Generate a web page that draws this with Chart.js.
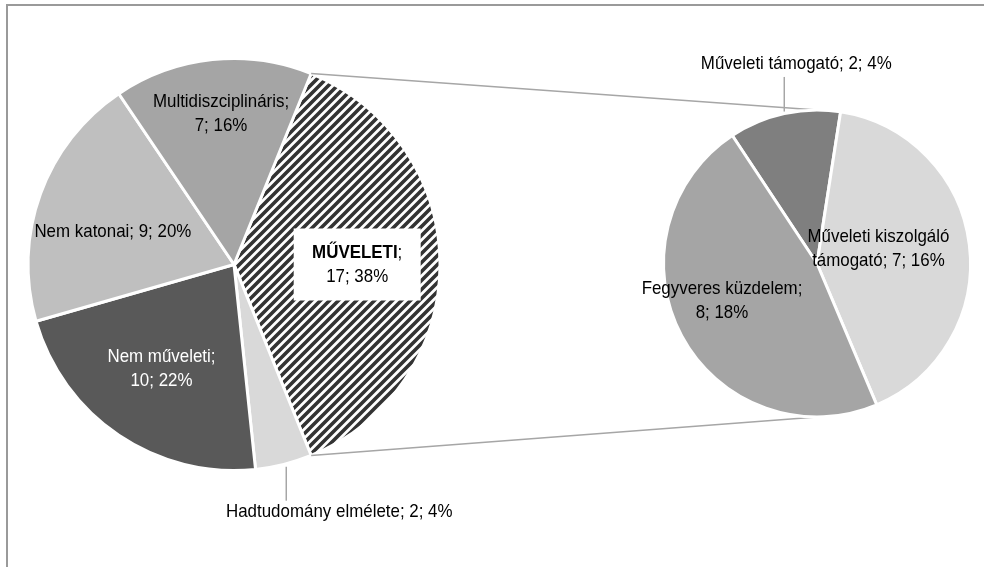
<!DOCTYPE html>
<html><head><meta charset="utf-8">
<script src="https://cdn.jsdelivr.net/npm/chart.js@4"></script>
<style>
html,body{margin:0;padding:0;background:#fff;}
#wrap{position:relative;width:984px;height:567px;overflow:hidden;background:#fff;}
#wrap canvas{position:absolute;left:0;top:0;}
#frame{position:absolute;left:6px;top:4px;width:1200px;height:1200px;border:2px solid #9a9a9a;}
</style></head><body>
<div id="wrap"><div id="frame"></div><canvas id="main" width="984" height="567"></canvas><canvas id="sec" width="984" height="567"></canvas></div>
<script>
// ---- data ----
const mainCategories = ['MŰVELETI', 'Hadtudomány elmélete', 'Nem műveleti', 'Nem katonai', 'Multidiszciplináris'];
const mainValues = [17, 2, 10, 9, 7];
const mainPercents = [38, 4, 22, 20, 16];
const secCategories = ['Műveleti támogató', 'Műveleti kiszolgáló támogató', 'Fegyveres küzdelem'];
const secValues = [2, 7, 8];
const secPercents = [4, 16, 18];

// ---- styles / layout ----
const FONT_FAMILY = '"Liberation Sans Narrow", "Arial Narrow", "Liberation Sans", Arial, sans-serif';
const FONT_SIZE = 19;
const X_SCALE = 0.89;   // condense the glyphs horizontally
const LINE_H = 24;

function hatchPattern() {
  const s = 9;
  const c = document.createElement('canvas');
  c.width = s; c.height = s;
  const g = c.getContext('2d');
  g.fillStyle = '#fff'; g.fillRect(0, 0, s, s);
  g.strokeStyle = '#333'; g.lineWidth = 3.6; g.lineCap = 'square';
  for (const o of [-s, 0, s]) {
    g.beginPath(); g.moveTo(o - 1, s + 1); g.lineTo(o + s + 1, -1); g.stroke();
  }
  return g.createPattern(c, 'repeat');
}

const mainColors = [hatchPattern(), '#d9d9d9', '#595959', '#bfbfbf', '#a5a5a5'];
const secColors = ['#7f7f7f', '#d9d9d9', '#a5a5a5'];

// label placement relative to pie centre, in units of radius
const mainLabelLayout = [
  {rx: 0.598, ry: 0.0, brk: 1, color: '#000', bold: true, box: true},
  {rx: 0.511, ry: 1.2, brk: 0, color: '#000', leaderDx: -53},
  {rx: -0.352, ry: 0.506, brk: 2, color: '#fff'},
  {rx: -0.588, ry: -0.157, brk: 0, color: '#000'},
  {rx: -0.063, ry: -0.733, brk: 1, color: '#000'}
];
const secLabelLayout = [
  {rx: -0.135, ry: -1.30, brk: 0, color: '#000', leaderDx: -12},
  {rx: 0.40, ry: -0.097, brk: 2, color: '#000'},
  {rx: -0.619, ry: 0.245, brk: 2, color: '#000'}
];

function labelLines(name, v, p, brk) {
  const words = (name + '; ' + v + '; ' + p + '%').split(' ');
  if (!brk) return [words.join(' ')];
  return [words.slice(0, brk).join(' '), words.slice(brk).join(' ')];
}

function setFont(ctx, bold) { ctx.font = (bold ? 'bold ' : '') + FONT_SIZE + 'px ' + FONT_FAMILY; }
function textW(ctx, t, bold) { setFont(ctx, bold); return ctx.measureText(t).width * X_SCALE; }
function putText(ctx, t, x, y, bold) {
  // draws text with its left edge at x, condensed by X_SCALE
  setFont(ctx, bold);
  ctx.save();
  ctx.translate(x, y);
  ctx.scale(X_SCALE, 1);
  ctx.textAlign = 'left';
  ctx.textBaseline = 'middle';
  ctx.fillText(t, 0, 0);
  ctx.restore();
}

function drawLabels(chart, cats, vals, pcts, layout) {
  const ctx = chart.ctx;
  const meta = chart.getDatasetMeta(0);
  const a0 = meta.data[0];
  const cx = a0.x, cy = a0.y, r = a0.outerRadius;
  ctx.save();
  layout.forEach((L, i) => {
    const lines = labelLines(cats[i], vals[i], pcts[i], L.brk);
    const x = cx + L.rx * r, y = cy + L.ry * r;
    const n = lines.length;
    const top = y - (n - 1) * LINE_H / 2;
    if (L.box) {
      const w = 127, h = 72;
      ctx.fillStyle = '#fff';
      ctx.fillRect(x - w / 2, y - h / 2, w, h);
    }
    if (L.leaderDx !== undefined) {
      const lx = x + L.leaderDx;
      const dy = Math.sqrt(Math.max(r * r - (lx - cx) * (lx - cx), 0));
      ctx.strokeStyle = '#a6a6a6';
      ctx.lineWidth = 1.5;
      ctx.beginPath();
      if (L.ry > 0) { ctx.moveTo(lx, cy + dy + 3); ctx.lineTo(lx, top - 11); }
      else { ctx.moveTo(lx, cy - dy - 2); ctx.lineTo(lx, top + 13); }
      ctx.stroke();
    }
    ctx.fillStyle = L.color;
    lines.forEach((t, k) => {
      const ly = top + k * LINE_H;
      if (L.bold && k === 0) {
        const head = cats[i];
        const tail = t.slice(head.length);
        const wh = textW(ctx, head, true), wt = textW(ctx, tail, false);
        const sx = x - (wh + wt) / 2;
        putText(ctx, head, sx, ly, true);
        putText(ctx, tail, sx + wh, ly, false);
      } else {
        const w = textW(ctx, t, false);
        putText(ctx, t, x - w / 2, ly, false);
      }
    });
  });
  ctx.restore();
}

const baseOpts = {
  responsive: false,
  animation: false,
  devicePixelRatio: 1,
  plugins: {legend: {display: false}, tooltip: {enabled: false}},
  events: []
};

const mainChart = new Chart(document.getElementById('main'), {
  type: 'pie',
  data: {labels: mainCategories, datasets: [{data: mainValues, backgroundColor: mainColors, borderColor: '#fff', borderWidth: 3}]},
  options: Object.assign({}, baseOpts, {
    rotation: 22,
    layout: {padding: {left: 26.5, right: 542.5, top: 57, bottom: 95}}
  }),
  plugins: [{
    id: 'mainLabels',
    afterDatasetsDraw(chart) { drawLabels(chart, mainCategories, mainValues, mainPercents, mainLabelLayout); }
  }]
});

const secChart = new Chart(document.getElementById('sec'), {
  type: 'pie',
  data: {labels: secCategories, datasets: [{data: secValues, backgroundColor: secColors, borderColor: '#fff', borderWidth: 3}]},
  options: Object.assign({}, baseOpts, {
    rotation: -33.5,
    layout: {padding: {left: 662, right: 12, top: 108.5, bottom: 148.5}}
  }),
  plugins: [{
    id: 'connectors',
    beforeDatasetsDraw(chart) {
      const m = mainChart.getDatasetMeta(0).data[0];
      const s = chart.getDatasetMeta(0).data[0];
      const ctx = chart.ctx;
      const p1 = [m.x + m.outerRadius * Math.cos(m.startAngle), m.y + m.outerRadius * Math.sin(m.startAngle)];
      const p2 = [m.x + m.outerRadius * Math.cos(m.endAngle), m.y + m.outerRadius * Math.sin(m.endAngle)];
      ctx.save();
      ctx.strokeStyle = '#a6a6a6';
      ctx.lineWidth = 1.5;
      ctx.beginPath();
      ctx.moveTo(p1[0], p1[1]); ctx.lineTo(s.x, s.y - s.outerRadius);
      ctx.moveTo(p2[0], p2[1]); ctx.lineTo(s.x, s.y + s.outerRadius);
      ctx.stroke();
      ctx.restore();
    },
    afterDatasetsDraw(chart) { drawLabels(chart, secCategories, secValues, secPercents, secLabelLayout); }
  }]
});
</script>
</body></html>
